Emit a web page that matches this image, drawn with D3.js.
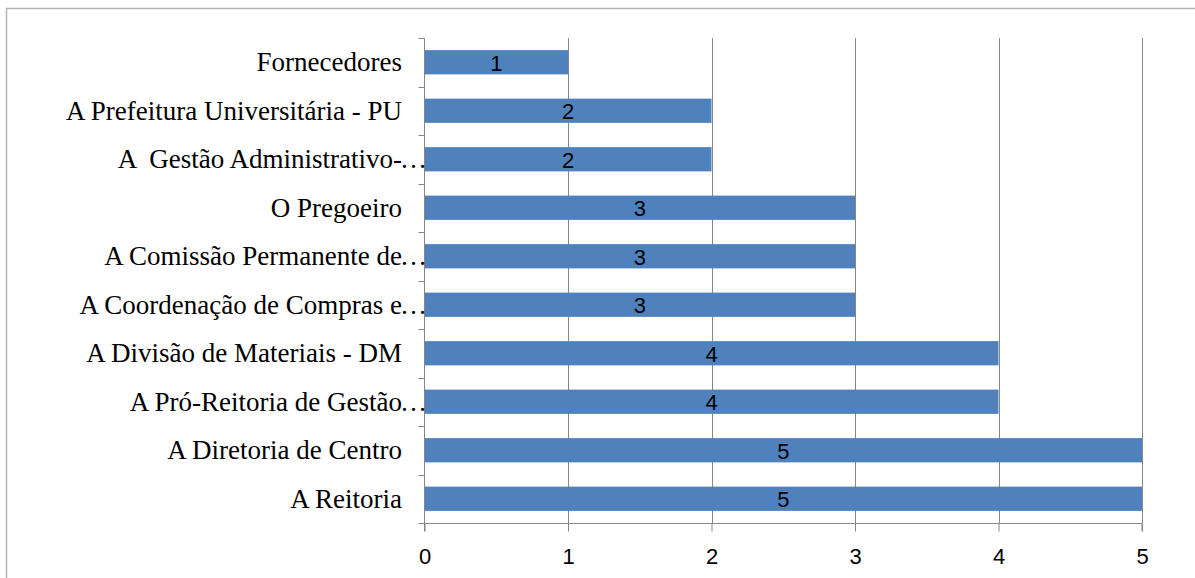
<!DOCTYPE html>
<html><head><meta charset="utf-8">
<script src="https://cdn.jsdelivr.net/npm/d3@7"></script>
<style>
html,body{margin:0;padding:0;background:#fff;}
svg{display:block;}
</style></head>
<body>
<svg id="chart" width="1195" height="578"></svg>
<script>
const categories = [
  "Fornecedores",
  "A Prefeitura Universitária - PU",
  "A  Gestão Administrativo-…",
  "O Pregoeiro",
  "A Comissão Permanente de…",
  "A Coordenação de Compras e…",
  "A Divisão de Materiais - DM",
  "A Pró-Reitoria de Gestão…",
  "A Diretoria de Centro",
  "A Reitoria"
];
const values = [1, 2, 2, 3, 3, 3, 4, 4, 5, 5];
const xTicks = [0, 1, 2, 3, 4, 5];

const svg = d3.select("#chart");
const m = {left: 424.5, right: 1142, top: 38, bottom: 523};

// outer frame
svg.append("rect").attr("x", 6.5).attr("y", 8.5).attr("width", 1400).attr("height", 800)
  .attr("fill", "none").attr("stroke", "#b4b4b4").attr("stroke-width", 1.5);

const x = d3.scaleLinear().domain([0, 5]).range([m.left, m.right]);
const y = d3.scaleBand().domain(categories).range([m.top, m.bottom]).paddingInner(0.5).paddingOuter(0.25);

const gridColor = "#868686";

// vertical gridlines
svg.append("g").selectAll("line").data(xTicks.filter(d => d > 0)).join("line")
  .attr("x1", d => Math.round(x(d)) + 0.5).attr("x2", d => Math.round(x(d)) + 0.5)
  .attr("y1", m.top).attr("y2", m.bottom)
  .attr("stroke", gridColor).attr("stroke-width", 1);

// bars
svg.append("g").selectAll("rect").data(categories).join("rect")
  .attr("x", x(0))
  .attr("y", d => y(d))
  .attr("width", (d, i) => x(values[i]) - x(0))
  .attr("height", y.bandwidth())
  .attr("fill", "#4F81BD");

// y axis line and ticks
const yTickPos = d3.range(categories.length + 1).map(i => m.top + i * (m.bottom - m.top) / categories.length);
svg.append("line").attr("x1", m.left).attr("x2", m.left).attr("y1", m.top).attr("y2", m.bottom)
  .attr("stroke", gridColor).attr("stroke-width", 1);
svg.append("g").selectAll("line").data(yTickPos).join("line")
  .attr("x1", m.left - 6).attr("x2", m.left)
  .attr("y1", d => Math.round(d) + 0.5).attr("y2", d => Math.round(d) + 0.5)
  .attr("stroke", gridColor).attr("stroke-width", 1);

// x axis
const numFont = "'Liberation Sans Narrow','Liberation Sans',Arial,sans-serif";
const xAxis = d3.axisBottom(x).tickValues(xTicks).tickSize(8).tickPadding(17).tickFormat(d3.format("d"));
const gx = svg.append("g").attr("transform", `translate(0,${m.bottom + 0.5})`).call(xAxis);
gx.select(".domain").attr("stroke", gridColor).attr("d", `M${m.left},8V0H${m.right}V8`);
gx.selectAll(".tick line").attr("stroke", gridColor);
gx.selectAll(".tick text").attr("fill", "#000")
  .style("font-family", numFont)
  .style("font-size", "22px");

// category labels
const labelFont = "'Liberation Serif','Times New Roman',serif";
const lg = svg.append("g");
categories.forEach((c, i) => {
  const yc = y(c) + y.bandwidth() / 2;
  const trunc = c.endsWith("…");
  const main = trunc ? c.slice(0, -1) : c;
  lg.append("text")
    .attr("x", 402).attr("y", yc + 9)
    .attr("text-anchor", "end")
    .attr("xml:space", "preserve")
    .style("white-space", "pre")
    .style("font-family", labelFont).style("font-size", "27px").attr("fill", "#000")
    .text(main);
  if (trunc) {
    lg.append("text")
      .attr("x", 400).attr("y", yc + 9)
      .attr("text-anchor", "start")
      .style("font-family", labelFont).style("font-size", "27px").attr("fill", "#000")
      .text("…");
  }
});

// data labels
svg.append("g").selectAll("text").data(categories).join("text")
  .attr("x", (d, i) => (x(0) + x(values[i])) / 2)
  .attr("y", d => y(d) + y.bandwidth() / 2 + 8.5)
  .attr("text-anchor", "middle")
  .style("font-family", numFont)
  .style("font-size", "22px").attr("fill", "#000")
  .text((d, i) => values[i]);
</script>
</body></html>
